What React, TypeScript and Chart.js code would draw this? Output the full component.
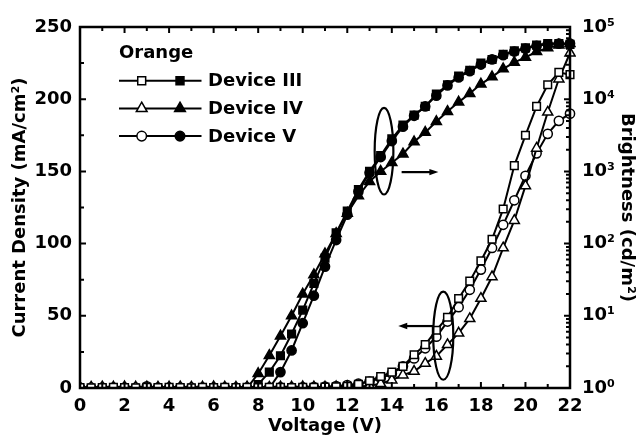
import { useEffect, useRef } from 'react';
import { Chart, registerables } from 'chart.js';

Chart.register(...registerables);

// Applied voltage (V), 0.5 V steps
const VOLTAGE = [
  0, 0.5, 1, 1.5, 2, 2.5, 3, 3.5, 4, 4.5, 5, 5.5, 6, 6.5, 7, 7.5, 8, 8.5, 9, 9.5,
  10, 10.5, 11, 11.5, 12, 12.5, 13, 13.5, 14, 14.5, 15, 15.5, 16, 16.5, 17, 17.5,
  18, 18.5, 19, 19.5, 20, 20.5, 21, 21.5, 22,
];

// Current density (mA/cm2), open symbols, left axis
const J_III = [
  0.3, 0.2, 0.3, 0.4, 0.3, 0.2, 0.5, 0.3, 0.4, 0.3, 0.2, 0.4, 0.3, 0.5, 0.3, 0.4,
  0.3, 0.5, 0.4, 0.3, 0.5, 0.4, 0.6, 0.8,
  1.2, 2.5, 5, 8, 11, 15, 23, 30, 40, 49, 62, 74, 88, 103, 124, 154, 175, 195, 210, 218.6, 217,
];
const J_IV = [
  0.6, 0.5, 0.7, 0.6, 0.8, 0.6, 0.7, 0.5, 0.6, 0.7, 0.5, 0.6, 0.8, 0.6, 0.5, 0.7,
  0.6, 0.5, 0.7, 0.6, 0.8, 0.7, 0.6, 0.8, 0.9, 1.1,
  1.5, 3, 5.5, 9, 11.5, 17, 22, 30, 38, 48, 62, 77, 97, 116, 140, 166, 191, 214, 232,
];
const J_V = [
  0.3, 0.2, 0.3, 0.2, 0.3, 0.2, 1.2, 0.3, 0.2, 0.3, 0.2, 0.3, 0.2, 0.3, 0.2, 0.3,
  0.2, 0.3, 0.4, 0.3, 0.5, 0.6, 0.9, 1.3,
  2, 3, 4.5, 6.7, 10, 15, 20.5, 27.5, 35.5, 46, 56, 68, 82, 97, 113, 130, 147, 162.5, 176, 185, 190,
];

// Brightness (cd/m2), filled symbols, right log axis
const B_III = [
  null, null, null, null, null, null, null, null, null, null, null, null, null, null, null, null,
  1.12, 1.66, 2.8, 5.6, 12, 28, 63, 141, 282, 562,
  1000, 1660, 2820, 4370, 6030, 7940, 11750, 15850, 20900, 25100,
  31600, 35500, 41700, 46800, 51300, 56200, 58900, 58900, 57500,
];
const B_IV = [
  null, null, null, null, null, null, null, null, null, null, null, null, null, null, null,
  1.0, 1.58, 2.82, 5.25, 10, 20, 37, 72, 138, 263,
  457, 724, 1000, 1320, 1740, 2570, 3470, 4900, 6760, 9120,
  12000, 16200, 20400, 26300, 32400, 38000, 45700, 51300, 56200, 58900,
];
const B_V = [
  null, null, null, null, null, null, null, null, null, null, null, null, null, null, null, null, null,
  1.0, 1.66, 3.31, 7.9, 19, 48, 112, 251, 525, 955,
  1580, 2630, 4170, 5890, 7940, 11200, 15500, 20000, 24500, 30200,
  35500, 40700, 45700, 50100, 55000, 57500, 58900, 58900,
];

const DEVICES = ['Device III', 'Device IV', 'Device V'];
const SYMBOLS = ['rect', 'triangle', 'circle'];
const SIZES = [5.4, 5.8, 4.6];
const LEGEND_TITLE = 'Orange';

const X_TICKS = [0, 2, 4, 6, 8, 10, 12, 14, 16, 18, 20, 22];
const Y_TICKS = [0, 50, 100, 150, 200, 250];
const LOG_TICKS = [1, 10, 100, 1000, 10000, 100000];
const SUPERSCRIPT = ['⁰', '¹', '²', '³', '⁴', '⁵'];

const FONT = { family: 'DejaVu Sans', weight: 'bold' as const, size: 18 };
const FONT_CSS = 'bold 18px "DejaVu Sans"';

// Ellipse + arrow call-outs, in data units of the x axis and left axis
const CALLOUTS = [
  { cx: 13.65, cy: 164, rx: 0.42, ry: 30, from: 14.44, to: 16.09, at: 149.5 },
  { cx: 16.31, cy: 36.2, rx: 0.45, ry: 30.5, from: 15.87, to: 14.29, at: 42.9 },
];

function symbol(ctx: CanvasRenderingContext2D, style: string, x: number, y: number, r: number, fill: string) {
  ctx.beginPath();
  if (style === 'rect') {
    const s = r * Math.SQRT1_2;
    ctx.rect(x - s, y - s, 2 * s, 2 * s);
  } else if (style === 'triangle') {
    for (let k = 0; k < 3; k++) {
      const a = (k * 2 * Math.PI) / 3;
      const px = x + Math.sin(a) * r;
      const py = y - Math.cos(a) * r;
      if (k === 0) ctx.moveTo(px, py);
      else ctx.lineTo(px, py);
    }
    ctx.closePath();
  } else {
    ctx.arc(x, y, r, 0, Math.PI * 2);
  }
  ctx.fillStyle = fill;
  ctx.fill();
  ctx.lineWidth = 1.5;
  ctx.strokeStyle = '#000';
  ctx.stroke();
}

const framePlugin = {
  id: 'frameTicks',
  afterDatasetsDraw(chart: any) {
    const { ctx, chartArea } = chart;
    const { left, right, top, bottom } = chartArea;
    const sx = chart.scales.x;
    const sy = chart.scales.y;
    const sr = chart.scales.y1;
    ctx.save();
    ctx.strokeStyle = '#000';
    ctx.lineCap = 'butt';
    ctx.lineWidth = 2;
    ctx.beginPath();
    // voltage ticks, bottom and mirrored on top
    for (let v = 0; v <= 22; v += 1) {
      const px = sx.getPixelForValue(v);
      const len = v % 2 === 0 ? 6 : 4;
      ctx.moveTo(px, bottom);
      ctx.lineTo(px, bottom - len);
      ctx.moveTo(px, top);
      ctx.lineTo(px, top + len);
    }
    // current density ticks
    for (let v = 0; v <= 250; v += 25) {
      const py = sy.getPixelForValue(v);
      const len = v % 50 === 0 ? 6 : 4;
      ctx.moveTo(left, py);
      ctx.lineTo(left + len, py);
    }
    // brightness ticks (log)
    for (let d = 0; d < 5; d++) {
      for (let m = 1; m <= 9; m++) {
        const py = sr.getPixelForValue(m * Math.pow(10, d));
        const len = m === 1 ? 6 : 4;
        ctx.moveTo(right, py);
        ctx.lineTo(right - len, py);
      }
    }
    ctx.stroke();
    ctx.lineWidth = 2.5;
    ctx.strokeRect(left, top, right - left, bottom - top);

    // call-outs
    ctx.lineWidth = 2.2;
    for (const c of CALLOUTS) {
      const ex = sx.getPixelForValue(c.cx);
      const ey = sy.getPixelForValue(c.cy);
      const erx = Math.abs(sx.getPixelForValue(c.cx + c.rx) - ex);
      const ery = Math.abs(sy.getPixelForValue(c.cy + c.ry) - ey);
      ctx.beginPath();
      ctx.ellipse(ex, ey, erx, ery, 0, 0, Math.PI * 2);
      ctx.stroke();
      const x0 = sx.getPixelForValue(c.from);
      const x1 = sx.getPixelForValue(c.to);
      const ay = sy.getPixelForValue(c.at);
      const dir = Math.sign(x1 - x0);
      ctx.beginPath();
      ctx.moveTo(x0, ay);
      ctx.lineTo(x1 - dir * 6, ay);
      ctx.stroke();
      ctx.beginPath();
      ctx.moveTo(x1, ay);
      ctx.lineTo(x1 - dir * 9, ay - 3.2);
      ctx.lineTo(x1 - dir * 9, ay + 3.2);
      ctx.closePath();
      ctx.fillStyle = '#000';
      ctx.fill();
    }
    ctx.restore();
  },
};

const legendPlugin = {
  id: 'deviceLegend',
  afterDraw(chart: any) {
    const { ctx } = chart;
    ctx.save();
    ctx.font = FONT_CSS;
    ctx.fillStyle = '#000';
    ctx.textBaseline = 'middle';
    ctx.textAlign = 'left';
    ctx.fillText(LEGEND_TITLE, 119, 53);
    DEVICES.forEach((name, i) => {
      const y = 80.7 + i * 27.7;
      ctx.beginPath();
      ctx.moveTo(119, y);
      ctx.lineTo(201.5, y);
      ctx.lineWidth = 2;
      ctx.strokeStyle = '#000';
      ctx.stroke();
      const r = SYMBOLS[i] === 'circle' ? 4.8 : SYMBOLS[i] === 'triangle' ? 6.2 : 5.6;
      symbol(ctx, SYMBOLS[i], 141.7, y, r, '#fff');
      symbol(ctx, SYMBOLS[i], 180, y, r, '#000');
      ctx.fillStyle = '#000';
      ctx.fillText(name, 208, y + 1);
    });
    ctx.restore();
  },
};

const pts = (ys: (number | null)[]) => VOLTAGE.map((x, i) => ({ x, y: ys[i] }));

function series(label: string, ys: (number | null)[], k: number, filled: boolean, axis: string) {
  return {
    label,
    data: pts(ys),
    yAxisID: axis,
    borderColor: '#000',
    backgroundColor: filled ? '#000' : '#fff',
    borderWidth: 2,
    pointStyle: SYMBOLS[k],
    pointRadius: SIZES[k],
    pointBorderWidth: 1.5,
    pointBorderColor: '#000',
    pointBackgroundColor: filled ? '#000' : '#fff',
    tension: 0,
    clip: { left: 0, top: 6, right: 6, bottom: 0 },
  };
}

export default function App() {
  const ref = useRef<HTMLCanvasElement>(null);

  useEffect(() => {
    const canvas = ref.current;
    if (!canvas) return;
    const chart = new Chart(canvas, {
      type: 'line',
      data: {
        datasets: [
          series(DEVICES[0], J_III, 0, false, 'y'),
          series(DEVICES[1], J_IV, 1, false, 'y'),
          series(DEVICES[2], J_V, 2, false, 'y'),
          series(DEVICES[0], B_III, 0, true, 'y1'),
          series(DEVICES[1], B_IV, 1, true, 'y1'),
          series(DEVICES[2], B_V, 2, true, 'y1'),
        ] as any,
      },
      options: {
        responsive: false,
        animation: false,
        devicePixelRatio: 1,
        events: [],
        layout: { padding: { top: 27, left: 0, right: 0, bottom: 0 } },
        plugins: { legend: { display: false }, tooltip: { enabled: false } },
        scales: {
          x: {
            type: 'linear',
            min: 0,
            max: 22,
            afterBuildTicks: (s: any) => { s.ticks = X_TICKS.map((value) => ({ value })); },
            afterFit: (s: any) => { s.height = 51; },
            grid: { display: false, drawTicks: false },
            border: { display: false },
            ticks: { font: FONT, color: '#000', padding: 8, maxRotation: 0, autoSkip: false },
            title: { display: true, text: 'Voltage (V)', font: FONT, color: '#000', padding: { top: 0, bottom: 2 } },
          },
          y: {
            type: 'linear',
            position: 'left',
            min: 0,
            max: 250,
            afterBuildTicks: (s: any) => { s.ticks = Y_TICKS.map((value) => ({ value })); },
            afterFit: (s: any) => { s.width = 80; },
            grid: { display: false, drawTicks: false },
            border: { display: false },
            ticks: { font: FONT, color: '#000', padding: 8 },
            title: { display: true, text: 'Current Density (mA/cm²)', font: FONT, color: '#000', padding: { top: 10, bottom: 0 } },
          },
          y1: {
            type: 'logarithmic',
            position: 'right',
            min: 1,
            max: 100000,
            afterBuildTicks: (s: any) => { s.ticks = LOG_TICKS.map((value) => ({ value, major: true })); },
            afterFit: (s: any) => { s.width = 67; },
            grid: { display: false, drawTicks: false },
            border: { display: false },
            ticks: {
              font: FONT,
              color: '#000',
              padding: 12,
              callback: (v: any) => '10' + SUPERSCRIPT[Math.round(Math.log10(Number(v)))],
            },
            title: { display: true, text: 'Brightness (cd/m²)', font: FONT, color: '#000', padding: { top: 0, bottom: 0 } },
          },
        },
      } as any,
      plugins: [framePlugin, legendPlugin],
    });
    return () => chart.destroy();
  }, []);

  return (
    <div style={{ position: 'fixed', left: 0, top: 0, width: 637, height: 439, background: '#fff' }}>
      <canvas ref={ref} width={637} height={439} style={{ display: 'block', width: 637, height: 439 }} />
    </div>
  );
}
